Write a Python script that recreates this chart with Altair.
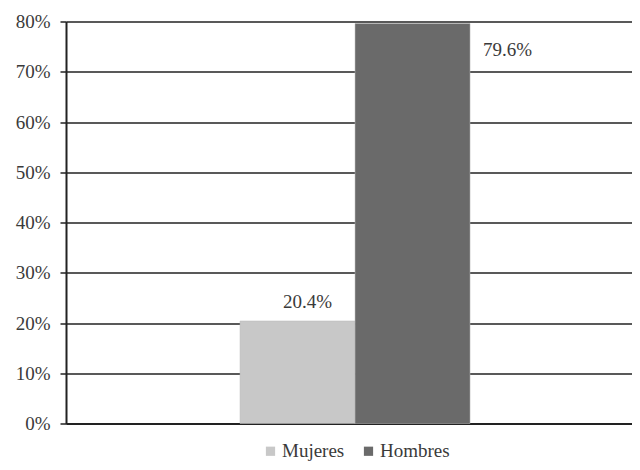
import altair as alt
import pandas as pd

categories = ["Mujeres", "Hombres"]
values = [0.204, 0.796]
labels = ["20.4%", "79.6%"]
colors = ["#c8c8c8", "#6a6a6a"]
y_ticks = [0, 0.1, 0.2, 0.3, 0.4, 0.5, 0.6, 0.7, 0.8]

df = pd.DataFrame({"sexo": categories, "valor": values, "etiqueta": labels})

FONT = "Times New Roman, Liberation Serif, DejaVu Serif, serif"
TXT = "#3a3a3a"
FS = 19

# empty slots either side keep the pair of bars in the middle of the plot
x_domain = ["_izq"] + categories + ["_der"]

x_enc = alt.X("sexo:N", sort=x_domain,
              scale=alt.Scale(domain=x_domain, paddingInner=0, paddingOuter=0.461, align=0.557),
              axis=alt.Axis(title=None, labels=False, ticks=False, domain=True,
                            domainColor="#222222", domainWidth=2, grid=False))
y_enc = alt.Y("valor:Q",
              scale=alt.Scale(domain=[0, 0.8], nice=False),
              axis=alt.Axis(title=None, values=y_ticks, format=".0%", grid=True,
                            gridColor="#222222", gridWidth=1.5, domainColor="#222222",
                            domainWidth=2, tickColor="#222222", tickSize=6, tickWidth=1.5,
                            labelFont=FONT, labelFontSize=FS, labelColor=TXT, labelPadding=10))

bars = alt.Chart(df).mark_bar(size=115, stroke="#bbbbbb", strokeWidth=0.5).encode(
    x=x_enc,
    y=y_enc,
    color=alt.Color("sexo:N", sort=categories,
                    scale=alt.Scale(domain=categories, range=colors),
                    legend=alt.Legend(title=None, orient="none", direction="horizontal",
                                      legendX=195, legendY=420, symbolType="square",
                                      symbolSize=85, symbolStrokeWidth=0,
                                      labelFont=FONT, labelFontSize=FS, labelColor=TXT,
                                      columnPadding=14, labelOffset=2)),
)

lab_m = alt.Chart(df).transform_filter(alt.datum.sexo == "Mujeres").mark_text(
    font=FONT, fontSize=FS, color=TXT, dx=10, dy=-19, baseline="middle", align="center"
).encode(x=alt.X("sexo:N", sort=x_domain), y="valor:Q", text="etiqueta:N")

lab_h = alt.Chart(df).transform_filter(alt.datum.sexo == "Hombres").mark_text(
    font=FONT, fontSize=FS, color=TXT, dx=70.5, dy=26, baseline="middle", align="left"
).encode(x=alt.X("sexo:N", sort=x_domain), y="valor:Q", text="etiqueta:N")

chart = alt.layer(bars, lab_m, lab_h).properties(
    width=566, height=402,
    autosize=alt.AutoSizeParams(type="none"),
    padding={"left": 58, "top": 13.5, "right": 0, "bottom": 38.5},
    background="white",
).configure_view(stroke=None)

chart.save("out.html", embed_options={"renderer": "svg", "actions": False})
